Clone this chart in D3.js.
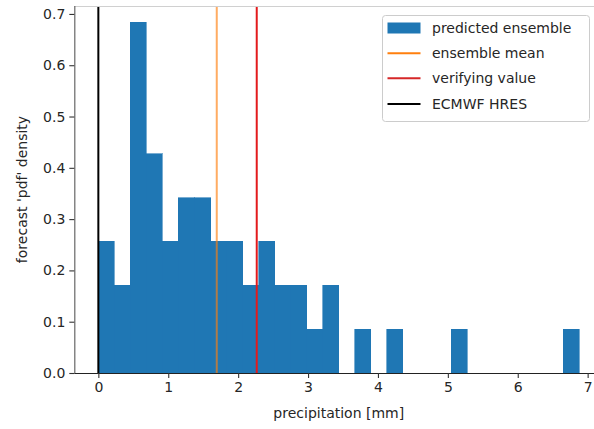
<!DOCTYPE html>
<html><head><meta charset="utf-8">
<script src="https://cdn.jsdelivr.net/npm/d3@7"></script>
<style>body{margin:0;background:#fff;} svg{display:block;font-family:"DejaVu Sans",sans-serif;}</style>
</head><body>
<svg id="c" width="594" height="429"></svg>
<script>
// ---- data ----
const nMembers = 51;
const binStart = 0.0;
const binEnd = 6.88;
const binCounts = [3,2,8,5,3,4,4,3,3,2,3,2,2,1,2,0,1,0,1,0,0,0,1,0,0,0,0,0,0,1];
const ensembleMean = 1.694;
const verifyingValue = 2.266;
const hresValue = 0.0;
const xTicks = [0,1,2,3,4,5,6,7];
const yTicks = [0.0,0.1,0.2,0.3,0.4,0.5,0.6,0.7];
const legendLabels = ["predicted ensemble","ensemble mean","verifying value","ECMWF HRES"];

// ---- derived ----
const nb = binCounts.length;
const bw = (binEnd - binStart) / nb;
const bins = binCounts.map((c,i)=>({x0: binStart + i*bw, x1: binStart + (i+1)*bw, d: c/(nMembers*bw)}));
const maxD = d3.max(bins, b=>b.d);
const xm = (binEnd-binStart)*0.05;

const svg = d3.select("#c");
const L = 74.3, R = 603.3, T = 4.6, B = 373;
const x = d3.scaleLinear().domain([binStart - xm, binEnd + xm]).range([L, R]);
const y = d3.scaleLinear().domain([0, maxD*1.05]).range([B, T]);

const blue = "#1f77b4";
// bars
svg.append("g").attr("shape-rendering", "crispEdges").selectAll("rect").data(bins.filter(b=>b.d>0)).join("rect")
  .attr("x", b=>x(b.x0)).attr("width", b=>x(b.x1)-x(b.x0))
  .attr("y", b=>y(b.d)).attr("height", b=>y(0)-y(b.d))
  .attr("fill", blue).attr("stroke", blue).attr("stroke-width", 0.6);

// vertical lines
const vlines = [
  {v: ensembleMean, c: "#ff7f0e", o: 0.65},
  {v: verifyingValue, c: "#e31a1c", o: 1},
  {v: hresValue, c: "#000000", o: 1}
];
svg.append("g").selectAll("line").data(vlines).join("line")
  .attr("x1", d=>x(d.v)).attr("x2", d=>x(d.v))
  .attr("y1", y(0)).attr("y2", 6)
  .attr("stroke", d=>d.c).attr("stroke-opacity", d=>d.o).attr("stroke-width", 2);

// top border line
svg.append("line").attr("x1", L).attr("x2", 594).attr("y1", 6.5).attr("y2", 6.5)
  .attr("stroke", "#d0d0d0").attr("stroke-width", 1);

// axes
const xAxis = svg.append("g").attr("transform", `translate(0,${B})`)
  .call(d3.axisBottom(x).tickValues(xTicks).tickFormat(d3.format("d")).tickSize(5).tickPadding(4));
const yAxis = svg.append("g").attr("transform", `translate(${L},0)`)
  .call(d3.axisLeft(y).tickValues(yTicks).tickFormat(d3.format(".1f")).tickSize(5).tickPadding(4));
[xAxis, yAxis].forEach(g=>{
  g.selectAll("text").attr("font-size", 14).attr("fill", "#262626").attr("font-family", "DejaVu Sans");
  g.selectAll(".tick line").attr("stroke", "#333").attr("stroke-width", 1.1);
});
xAxis.select(".domain").attr("d", `M${L},0.5H${594}`).attr("stroke", "#222").attr("stroke-width", 1.2);
yAxis.select(".domain").attr("d", `M0.5,${B}V6`).attr("stroke", "#666").attr("stroke-width", 1.2);

// labels
svg.append("text").attr("x", (L+R)/2).attr("y", 418).attr("text-anchor", "middle")
  .attr("font-size", 14).attr("fill", "#262626").text("precipitation [mm]");
svg.append("text").attr("transform", `translate(27,${(6+B)/2}) rotate(-90)`).attr("text-anchor", "middle")
  .attr("font-size", 14).attr("fill", "#262626").text("forecast 'pdf' density");

// legend
const lg = svg.append("g");
lg.append("rect").attr("x", 382.5).attr("y", 15.5).attr("width", 207).attr("height", 106)
  .attr("rx", 3).attr("fill", "#fff").attr("fill-opacity", 0.85).attr("stroke", "#cccccc");
const rowY = [28, 53.3, 78.3, 104];
const legendStyles = [
  {type: "patch", c: blue, o: 1},
  {type: "line", c: "#ff7f0e", o: 1},
  {type: "line", c: "#d62728", o: 1},
  {type: "line", c: "#000", o: 1}
];
legendLabels.forEach((lab, i)=>{
  const s = legendStyles[i];
  if (s.type === "patch") {
    lg.append("rect").attr("x", 387.5).attr("y", rowY[i]-5.5).attr("width", 33).attr("height", 11).attr("fill", s.c);
  } else {
    lg.append("line").attr("x1", 387.5).attr("x2", 420.5).attr("y1", rowY[i]).attr("y2", rowY[i])
      .attr("stroke", s.c).attr("stroke-width", 2);
  }
  lg.append("text").attr("x", 432).attr("y", rowY[i]+5).attr("font-size", 14).attr("fill", "#262626").text(lab);
});
</script>
</body></html>
